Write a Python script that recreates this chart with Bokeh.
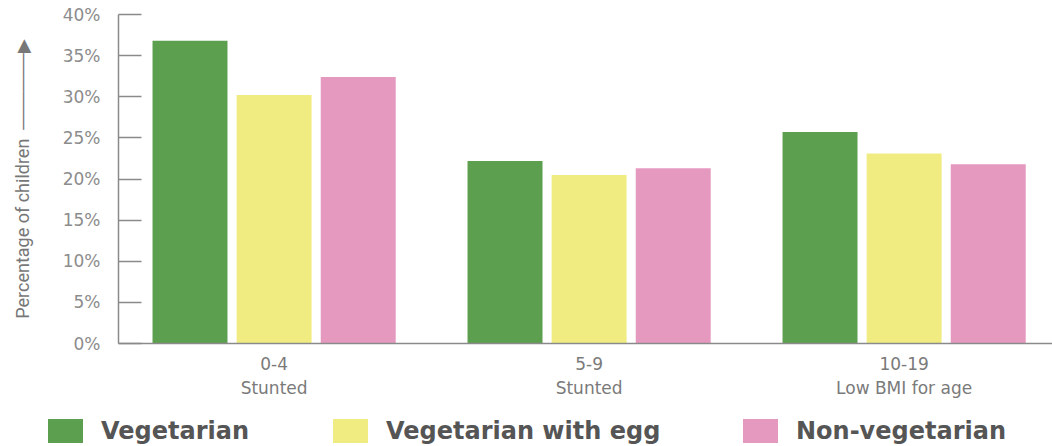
from bokeh.plotting import figure
from bokeh.layouts import column
from bokeh.models import (ColumnDataSource, Range1d, FixedTicker, PrintfTickFormatter, Div)
from bokeh.transform import dodge
from bokeh.embed import file_html
from bokeh.resources import INLINE

# Age groups and the indicator measured for each
age_groups = ["0-4", "5-9", "10-19"]
indicators = ["Stunted", "Stunted", "Low BMI for age"]

# Share of children (%) per diet type
vegetarian = [36.8, 22.2, 25.7]
vegetarian_with_egg = [30.2, 20.5, 23.1]
non_vegetarian = [32.4, 21.3, 21.8]

series_names = ["Vegetarian", "Vegetarian with egg", "Non-vegetarian"]
series_colors = ["#5c9f4f", "#f1ec82", "#e699bf"]

y_ticks = [0, 5, 10, 15, 20, 25, 30, 35, 40]

centers = [i + 0.5 for i in range(len(age_groups))]
source = ColumnDataSource(data=dict(
    x=centers,
    veg=vegetarian,
    egg=vegetarian_with_egg,
    nonveg=non_vegetarian,
))

p = figure(width=1052, height=400, output_backend="svg", toolbar_location=None,
           x_range=Range1d(0.006, 2.971), y_range=Range1d(0, 40))
p.min_border_left = 118
p.min_border_right = 0
p.min_border_top = 14
p.min_border_bottom = 57
p.outline_line_color = None
p.background_fill_color = "white"
p.border_fill_color = "white"
p.grid.visible = False

bar_w = 0.238
offset = 0.267
for col, off, color in zip(["veg", "egg", "nonveg"], [-offset, 0.0, offset], series_colors):
    p.vbar(x=dodge("x", off, range=p.x_range), top=col, width=bar_w, bottom=0,
           source=source, fill_color=color, line_color=None)

# y axis: inward ticks, percent labels, title with an upward arrow
p.yaxis.ticker = FixedTicker(ticks=y_ticks)
p.yaxis.formatter = PrintfTickFormatter(format="%d%%")
p.yaxis.major_tick_in = 23
p.yaxis.major_tick_out = 0
p.yaxis.minor_tick_line_color = None
p.yaxis.major_tick_line_color = "#8a8a8a"
p.yaxis.major_tick_line_width = 1.5
p.yaxis.axis_line_color = "#8a8a8a"
p.yaxis.axis_line_width = 1.5
p.yaxis.major_label_standoff = 18
p.yaxis.major_label_text_font = "DejaVu Sans"
p.yaxis.major_label_text_font_size = "17px"
p.yaxis.major_label_text_color = "#8c8c8c"
p.yaxis.axis_label = "Percentage of children \u00a0" + "\u2500" * 6 + "\u25b6"
p.yaxis.axis_label_text_font = "Roboto"
p.yaxis.axis_label_text_font_style = "normal"
p.yaxis.axis_label_text_font_size = "18px"
p.yaxis.axis_label_text_color = "#777777"
p.yaxis.axis_label_standoff = 27

# x axis: two-line category labels
p.xaxis.ticker = FixedTicker(ticks=centers)
p.xaxis.major_label_overrides = {c: f"{a}\n{ind}" for c, a, ind in zip(centers, age_groups, indicators)}
p.xaxis.major_tick_in = 0
p.xaxis.major_tick_out = 0
p.xaxis.minor_tick_line_color = None
p.xaxis.axis_line_color = "#8a8a8a"
p.xaxis.axis_line_width = 1.5
p.xaxis.major_label_standoff = 10
p.xaxis.major_label_text_font = "DejaVu Sans"
p.xaxis.major_label_text_font_size = "17px"
p.xaxis.major_label_text_color = "#7a7a7a"

# Series key in a row under the chart
key_left = [48, 333, 743]
items = "".join(
    f'<div style="position:absolute;left:{lx}px;top:19px;display:flex;align-items:center;">'
    f'<span style="display:inline-block;width:35px;height:24px;background:{c};margin-right:18px;"></span>'
    f'<span>{n}</span></div>'
    for n, c, lx in zip(series_names, series_colors, key_left)
)
key = Div(
    text=f'<div style="position:relative;width:1052px;height:46px;overflow:hidden;'
         f'font-family:\'DejaVu Sans\';font-weight:bold;font-size:24px;line-height:24px;'
         f'color:#555555;white-space:nowrap;">{items}</div>',
    width=1052, height=46, margin=0,
)

open("out.html", "w").write(file_html(column(p, key, spacing=0), INLINE))
